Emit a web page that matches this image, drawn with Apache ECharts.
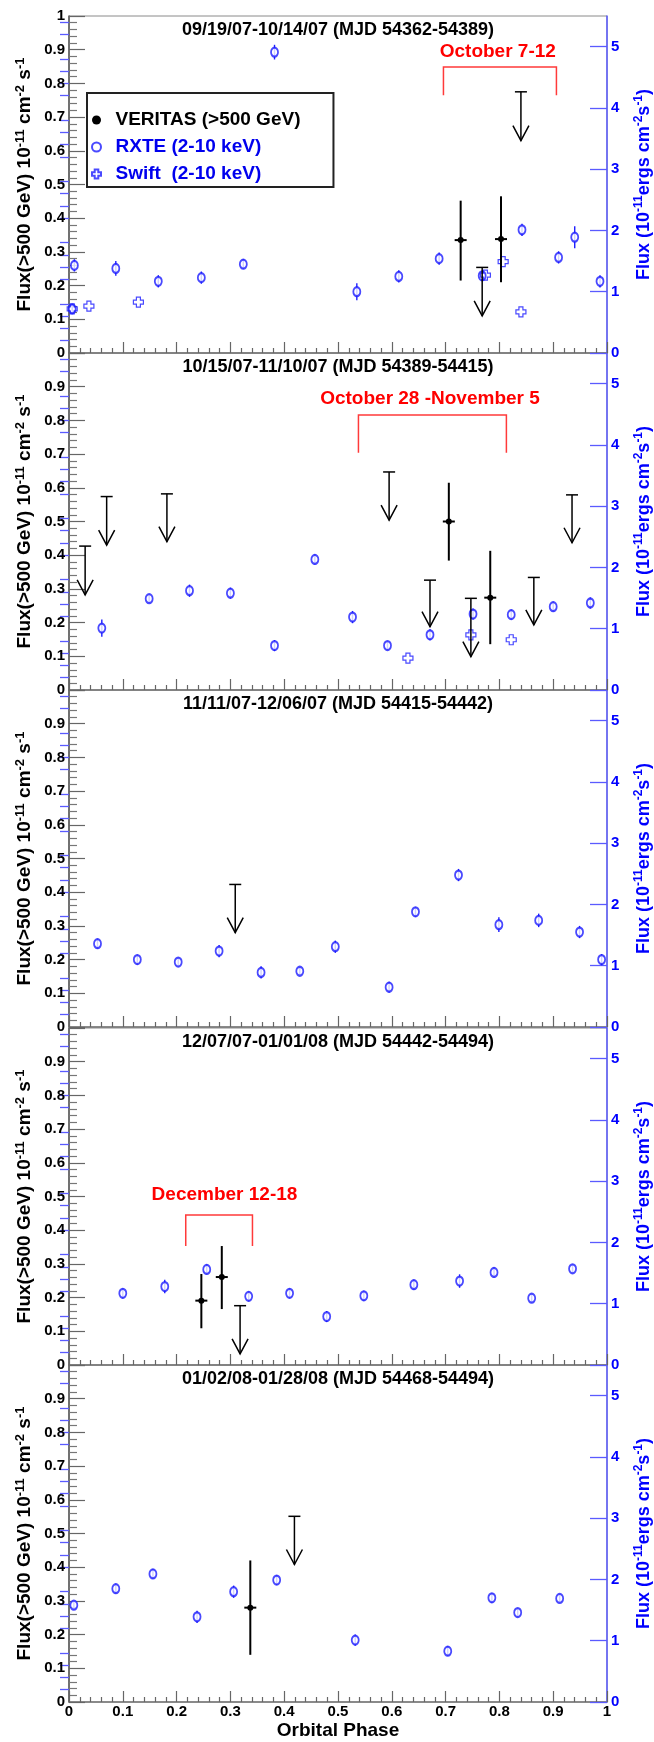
<!DOCTYPE html>
<html>
<head>
<meta charset="utf-8">
<script src="https://cdn.jsdelivr.net/npm/echarts@6/dist/echarts.min.js"></script>
<style>
html,body{margin:0;padding:0;background:#fff;}
#main{width:654px;height:1742px;}
</style>
</head>
<body>
<div id="main"></div>
<script>
// ---- data, one entry per panel (top to bottom) ----
var panelTitles = [
	'09/19/07-10/14/07 (MJD 54362-54389)',
	'10/15/07-11/10/07 (MJD 54389-54415)',
	'11/11/07-12/06/07 (MJD 54415-54442)',
	'12/07/07-01/01/08 (MJD 54442-54494)',
	'01/02/08-01/28/08 (MJD 54468-54494)'
];

// RXTE 2-10 keV (right axis, 1e-11 ergs cm-2 s-1)
var rxtePhase = [
	[0.006, 0.010, 0.087, 0.166, 0.246, 0.324, 0.382, 0.535, 0.613, 0.688, 0.768, 0.842, 0.910, 0.940, 0.987],
	[0.061, 0.149, 0.224, 0.300, 0.382, 0.457, 0.527, 0.592, 0.671, 0.751, 0.822, 0.900, 0.969],
	[0.053, 0.127, 0.203, 0.279, 0.357, 0.429, 0.495, 0.595, 0.644, 0.724, 0.799, 0.873, 0.949, 0.990],
	[0.100, 0.178, 0.256, 0.334, 0.410, 0.479, 0.548, 0.641, 0.726, 0.790, 0.860, 0.936],
	[0.009, 0.087, 0.156, 0.238, 0.306, 0.386, 0.532, 0.704, 0.786, 0.834, 0.912]
];
var rxteFlux = [
	[0.72, 1.43, 1.38, 1.17, 1.23, 1.45, 4.91, 1.00, 1.25, 1.54, 1.26, 2.01, 1.56, 1.89, 1.17],
	[1.01, 1.49, 1.62, 1.58, 0.725, 2.13, 1.19, 0.725, 0.90, 1.24, 1.23, 1.36, 1.42],
	[1.36, 1.10, 1.06, 1.24, 0.89, 0.91, 1.31, 0.65, 1.88, 2.48, 1.67, 1.74, 1.55, 1.10],
	[1.17, 1.28, 1.56, 1.12, 1.17, 0.79, 1.13, 1.31, 1.37, 1.51, 1.09, 1.57],
	[1.58, 1.85, 2.09, 1.39, 1.80, 1.99, 1.01, 0.83, 1.70, 1.46, 1.69]
];
var rxteErr = [
	[0.08, 0.10, 0.12, 0.10, 0.10, 0.08, 0.12, 0.14, 0.10, 0.10, 0.08, 0.10, 0.10, 0.18, 0.10],
	[0.14, 0.07, 0.10, 0.09, 0.09, 0.08, 0.10, 0.07, 0.09, 0.09, 0.08, 0.08, 0.09],
	[0.08, 0.08, 0.07, 0.10, 0.10, 0.06, 0.10, 0.09, 0.08, 0.10, 0.12, 0.11, 0.10, 0.09],
	[0.08, 0.11, 0.08, 0.08, 0.08, 0.09, 0.08, 0.08, 0.11, 0.08, 0.07, 0.07],
	[0.07, 0.08, 0.08, 0.10, 0.10, 0.08, 0.09, 0.08, 0.08, 0.07, 0.06]
];

// Swift 2-10 keV (right axis)
var swiftPhase = [
	[0.006, 0.037, 0.129, 0.774, 0.807, 0.840],
	[0.630, 0.747, 0.822],
	[], [], []
];
var swiftFlux = [
	[0.72, 0.765, 0.83, 1.27, 1.49, 0.67],
	[0.52, 0.90, 0.82],
	[], [], []
];

// VERITAS >500 GeV detections (left axis, 1e-11 cm-2 s-1)
var vtsPhase = [[0.728, 0.803], [0.706, 0.783], [], [0.246, 0.284], [0.337]];
var vtsFlux  = [[0.335, 0.338], [0.500, 0.274], [], [0.191, 0.261], [0.280]];
var vtsLow   = [[0.215, 0.210], [0.384, 0.136], [], [0.109, 0.166], [0.140]];
var vtsHigh  = [[0.452, 0.465], [0.615, 0.413], [], [0.270, 0.353], [0.420]];

// VERITAS upper limits: limit value and arrow tip
var ulPhase = [
	[0.768, 0.840],
	[0.030, 0.070, 0.182, 0.595, 0.671, 0.747, 0.864, 0.935],
	[0.309], [0.318], [0.419]
];
var ulValue = [
	[0.254, 0.775],
	[0.427, 0.574, 0.582, 0.647, 0.326, 0.272, 0.334, 0.579],
	[0.423], [0.176], [0.551]
];
var ulTip = [
	[0.110, 0.630],
	[0.282, 0.430, 0.440, 0.504, 0.188, 0.099, 0.193, 0.437],
	[0.280], [0.033], [0.408]
];

// red observing-campaign brackets
var bracketPanel = [0, 1, 3];
var bracketLabel = ['October 7-12', 'October 28 -November 5', 'December 12-18'];
var bracketFrom  = [0.696, 0.538, 0.217];
var bracketTo    = [0.906, 0.813, 0.341];
var bracketTop   = [0.849, 0.816, 0.445];
var bracketLeg   = [0.765, 0.704, 0.353];
var bracketTextX = [0.797, 0.671, 0.289];
var bracketTextY = [0.893, 0.864, 0.504];

var rightLabels = [0, 1, 2, 3, 4, 5];
var rightMinor = [0.2, 0.4, 0.6, 0.8, 1.2, 1.4, 1.6, 1.8, 2.2, 2.4, 2.6, 2.8,
	3.2, 3.4, 3.6, 3.8, 4.2, 4.4, 4.6, 4.8, 5.2, 5.4];

// ---- chart ----
var FONT = 'Liberation Sans, Arial, Helvetica, sans-serif';
var BLUE = '#1c1cff';
var AXBLUE = '#5a5aff';
var panelTop = [16, 353, 690, 1028, 1365];
var panelH = 337;

var chart = echarts.init(document.getElementById('main'));

function zip(a, b, c, d) {
	var out = [];
	for (var i = 0; i < a.length; i++) {
		var row = [a[i], b[i]];
		if (c) row.push(c[i]);
		if (d) row.push(d[i]);
		out.push(row);
	}
	return out;
}

function renderErr(params, api) {
	var lo = api.coord([api.value(0), api.value(1) - api.value(2)]);
	var hi = api.coord([api.value(0), api.value(1) + api.value(2)]);
	return {
		type: 'line',
		shape: {x1: lo[0], y1: lo[1], x2: hi[0], y2: hi[1]},
		style: {stroke: BLUE, lineWidth: 1.4}
	};
}

function renderVts(params, api) {
	var c = api.coord([api.value(0), api.value(1)]);
	var lo = api.coord([api.value(0), api.value(2)]);
	var hi = api.coord([api.value(0), api.value(3)]);
	var st = {stroke: '#000', lineWidth: 2};
	return {
		type: 'group',
		children: [
			{type: 'line', shape: {x1: c[0], y1: lo[1], x2: c[0], y2: hi[1]}, style: st},
			{type: 'line', shape: {x1: c[0] - 6, y1: c[1], x2: c[0] + 6, y2: c[1]}, style: st},
			{type: 'circle', shape: {cx: c[0], cy: c[1], r: 3}, style: {fill: '#000'}}
		]
	};
}

function renderUl(params, api) {
	var top = api.coord([api.value(0), api.value(1)]);
	var tip = api.coord([api.value(0), api.value(2)]);
	var st = {stroke: '#000', lineWidth: 1.5, fill: null};
	return {
		type: 'group',
		children: [
			{type: 'line', shape: {x1: top[0] - 6, y1: top[1], x2: top[0] + 6, y2: top[1]}, style: st},
			{type: 'line', shape: {x1: top[0], y1: top[1], x2: tip[0], y2: tip[1]}, style: st},
			{type: 'polyline', shape: {points: [[tip[0] - 8, tip[1] - 15], [tip[0], tip[1]], [tip[0] + 8, tip[1] - 15]]}, style: st}
		]
	};
}

function makeBracketRender(k) {
	return function (params, api) {
		var a = api.coord([bracketFrom[k], bracketTop[k]]);
		var b = api.coord([bracketTo[k], bracketTop[k]]);
		var legA = api.coord([bracketFrom[k], bracketLeg[k]]);
		var legB = api.coord([bracketTo[k], bracketLeg[k]]);
		var t = api.coord([bracketTextX[k], bracketTextY[k]]);
		return {
			type: 'group',
			children: [
				{type: 'polyline', shape: {points: [legA, a, b, legB]}, style: {stroke: '#ff3a3a', lineWidth: 1.5, fill: null}},
				{type: 'text', x: t[0], y: t[1], style: {
					text: bracketLabel[k], fill: '#ff0000', fontFamily: FONT, fontWeight: 'bold',
					fontSize: 19, align: 'center', verticalAlign: 'middle'}}
			]
		};
	};
}

var grids = [], xAxes = [], yAxes = [], series = [], titles = [], graphics = [];

var rightRich = {
	a: {fontFamily: FONT, fontWeight: 'bold', fontSize: 18, fill: '#0000ff', color: '#0000ff', lineHeight: 22},
	s: {fontFamily: FONT, fontWeight: 'bold', fontSize: 12, fill: '#0000ff', color: '#0000ff', lineHeight: 13, verticalAlign: 'top'}
};

for (var p = 0; p < 5; p++) {
	grids.push({
		left: 69, right: 47, top: panelTop[p], height: panelH,
		show: true, borderColor: '#8a8a8a', borderWidth: 1
	});
	titles.push({
		text: panelTitles[p], left: 338, textAlign: 'center', top: panelTop[p] + 5, padding: 0,
		textStyle: {fontFamily: FONT, fontWeight: 'bold', fontSize: 18, color: '#000'}
	});
	// right axis title, drawn as rotated text
	graphics.push({
		type: 'text', x: 644, y: panelTop[p] + panelH / 2, rotation: Math.PI / 2, silent: true,
		style: {
			text: '{a|Flux (10}{s|-11}{a|ergs cm}{s|-2}{a|s}{s|-1}{a|)}',
			rich: rightRich, align: 'center', verticalAlign: 'middle'
		}
	});
	xAxes.push({
		gridIndex: p, type: 'value', min: 0, max: 1, interval: 0.1,
		axisLine: {onZero: false, lineStyle: {color: '#777', width: 1.5}},
		axisTick: {inside: true, length: 11, lineStyle: {color: '#666', width: 1.2}},
		minorTick: {show: true, splitNumber: 5, length: 5, lineStyle: {color: '#666', width: 1.2}},
		splitLine: {show: false},
		axisLabel: {show: p === 4, margin: 2, fontFamily: FONT, fontWeight: 'bold', fontSize: 15, color: '#000'},
		name: p === 4 ? 'Orbital Phase' : '',
		nameLocation: 'middle', nameGap: 19, nameMoveOverlap: false,
		nameTextStyle: {fontFamily: FONT, fontWeight: 'bold', fontSize: 19, color: '#000'}
	});
	// left axis: VERITAS flux
	yAxes.push({
		gridIndex: p, type: 'value', position: 'left', min: 0, max: 1, interval: 0.1,
		axisLine: {onZero: false, lineStyle: {color: '#555', width: 1.5}},
		axisTick: {inside: true, length: 16, lineStyle: {color: '#666', width: 1.2}},
		minorTick: {show: true, splitNumber: 5, length: 8, lineStyle: {color: '#777', width: 1.2}},
		splitLine: {show: false},
		axisLabel: {margin: 4, showMaxLabel: p === 0, fontFamily: FONT, fontWeight: 'bold', fontSize: 15, color: '#000'},
		name: '{a|Flux(>500 GeV) 10}{s|-11}{a| cm}{s|-2}{a| s}{s|-1}',
		nameLocation: 'middle', nameRotate: 90, nameGap: 33, nameMoveOverlap: false,
		nameTextStyle: {rich: {
			a: {fontFamily: FONT, fontWeight: 'bold', fontSize: 19, color: '#000', lineHeight: 22},
			s: {fontFamily: FONT, fontWeight: 'bold', fontSize: 13, color: '#000', lineHeight: 13, verticalAlign: 'top'}
		}}
	});
	// right axis: X-ray flux, major ticks and labels
	yAxes.push({
		gridIndex: p, type: 'value', position: 'right', min: 0, max: 5.5, interval: 1,
		axisLine: {onZero: false, lineStyle: {color: AXBLUE, width: 1.5}},
		axisTick: {inside: true, length: 17, customValues: rightLabels, lineStyle: {color: AXBLUE, width: 1.3}},
		splitLine: {show: false},
		axisLabel: {margin: 4, customValues: rightLabels, fontFamily: FONT, fontWeight: 'bold', fontSize: 15, color: '#0000ff'}
	});
	// right axis minor ticks
	yAxes.push({
		gridIndex: p, type: 'value', position: 'right', min: 0, max: 5.5, interval: 0.2,
		axisLine: {show: false},
		axisTick: {inside: true, length: 9, customValues: rightMinor, lineStyle: {color: AXBLUE, width: 1.3}},
		splitLine: {show: false},
		axisLabel: {show: false}
	});

	var yl = 3 * p, yr = 3 * p + 1;

	series.push({
		type: 'custom', name: 'rxte-err', xAxisIndex: p, yAxisIndex: yr, silent: true, z: 2,
		renderItem: renderErr, data: zip(rxtePhase[p], rxteFlux[p], rxteErr[p])
	});
	series.push({
		type: 'scatter', name: 'RXTE (2-10 keV)', xAxisIndex: p, yAxisIndex: yr, silent: true, z: 3,
		symbol: 'emptyCircle', symbolSize: [7, 9],
		itemStyle: {color: BLUE, borderWidth: 1.3},
		data: zip(rxtePhase[p], rxteFlux[p])
	});
	series.push({
		type: 'scatter', name: 'Swift  (2-10 keV)', xAxisIndex: p, yAxisIndex: yr, silent: true, z: 3,
		symbol: 'path://M3,0L7,0L7,3L10,3L10,7L7,7L7,10L3,10L3,7L0,7L0,3L3,3Z', symbolSize: 10,
		itemStyle: {color: 'rgba(255,255,255,0)', borderColor: BLUE, borderWidth: 1.2},
		data: zip(swiftPhase[p], swiftFlux[p])
	});
	series.push({
		type: 'custom', name: 'VERITAS (>500 GeV)', xAxisIndex: p, yAxisIndex: yl, silent: true, z: 5,
		itemStyle: {color: '#000'},
		renderItem: renderVts, data: zip(vtsPhase[p], vtsFlux[p], vtsLow[p], vtsHigh[p])
	});
	series.push({
		type: 'custom', name: 'VERITAS UL', xAxisIndex: p, yAxisIndex: yl, silent: true, z: 5,
		renderItem: renderUl, data: zip(ulPhase[p], ulValue[p], ulTip[p])
	});
	var k = bracketPanel.indexOf(p);
	if (k >= 0) {
		series.push({
			type: 'custom', name: 'campaign', xAxisIndex: p, yAxisIndex: yl, silent: true, z: 4,
			renderItem: makeBracketRender(k), data: [[bracketFrom[k], bracketTop[k]]]
		});
	}
}

var option = {
	animation: false,
	backgroundColor: '#fff',
	title: titles,
	graphic: graphics,
	grid: grids,
	xAxis: xAxes,
	yAxis: yAxes,
	legend: {
		orient: 'vertical', left: 87, top: 93,
		selectedMode: false,
		data: [
			{name: 'VERITAS (>500 GeV)', icon: 'circle', itemStyle: {color: '#000'}, textStyle: {color: '#000'}},
			{name: 'RXTE (2-10 keV)', textStyle: {color: '#0000ee'}},
			{name: 'Swift  (2-10 keV)', textStyle: {color: '#0000ee'}}
		],
		itemWidth: 28, itemHeight: 9, itemGap: 7,
		padding: [17, 33, 3, 4],
		borderColor: '#222', borderWidth: 2, backgroundColor: '#fff',
		textStyle: {fontFamily: FONT, fontWeight: 'bold', fontSize: 19, lineHeight: 20}
	},
	series: series
};
chart.setOption(option);
</script>
</body>
</html>
